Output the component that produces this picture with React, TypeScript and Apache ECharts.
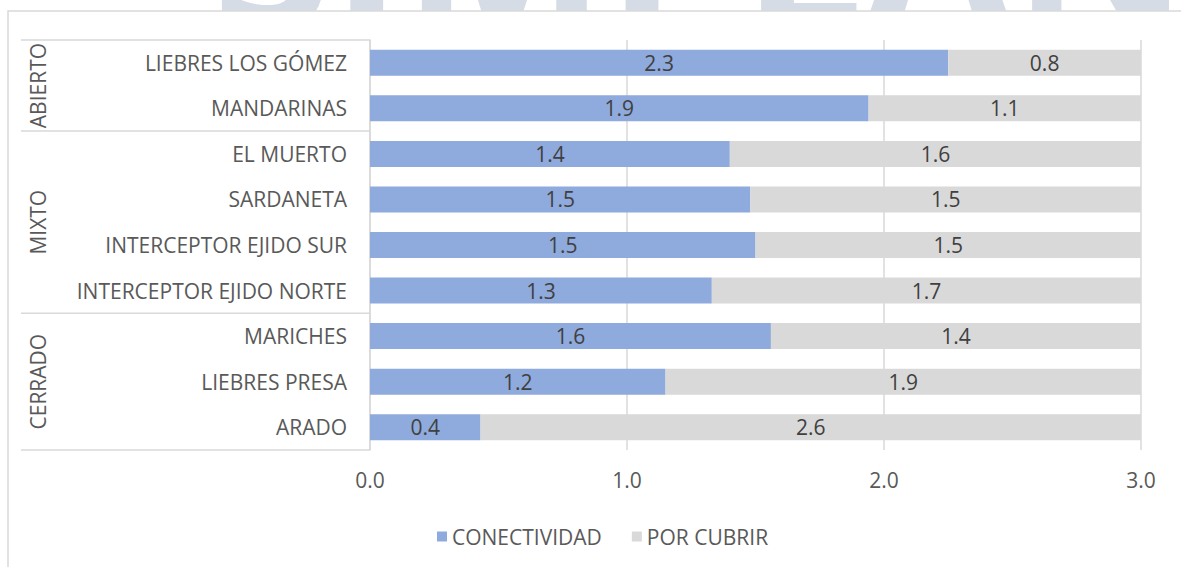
import React, { useEffect, useRef } from "react";
import * as echarts from "echarts";

const categories = [
  "LIEBRES LOS GÓMEZ",
  "MANDARINAS",
  "EL MUERTO",
  "SARDANETA",
  "INTERCEPTOR EJIDO SUR",
  "INTERCEPTOR EJIDO NORTE",
  "MARICHES",
  "LIEBRES PRESA",
  "ARADO",
];
const conectividad = [2.25, 1.94, 1.4, 1.48, 1.5, 1.33, 1.56, 1.15, 0.43];
const porCubrir = [0.75, 1.06, 1.6, 1.52, 1.5, 1.67, 1.44, 1.85, 2.57];
const groupNames = ["ABIERTO", "MIXTO", "CERRADO"];
const groupSizes = [2, 4, 3];
const seriesNames = ["CONECTIVIDAD", "POR CUBRIR"];
const watermark = "SIMPLAN";

const FONT = "'Open Sans', 'Noto Sans', sans-serif";
const LINE = "#d9d9d9";
const FS = 21;

const fmt = (v: number) => (Math.round(v * 10 + 1e-6) / 10).toFixed(1);

export default function App() {
  const ref = useRef<HTMLDivElement>(null);
  useEffect(() => {
    document.body.style.margin = "0";
    const chart = echarts.init(ref.current!, undefined, { renderer: "svg" });
    const labelCfg = {
      show: true,
      position: "inside",
      color: "#404040",
      fontSize: FS,
      fontFamily: FONT,
      formatter: (p: any) => fmt(p.value),
    };
    chart.setOption({
      animation: false,
      backgroundColor: "#ffffff",
      grid: { left: 370, right: 40, top: 40, bottom: 117 },
      legend: {
        data: seriesNames,
        left: 432,
        top: 521,
        icon: "rect",
        itemWidth: 10,
        itemHeight: 10,
        itemGap: 30,
        textStyle: { color: "#595959", fontSize: FS, fontFamily: FONT },
      },
      xAxis: {
        type: "value",
        min: 0,
        max: 3,
        interval: 1,
        axisLine: { show: false },
        axisTick: { show: false },
        splitLine: { lineStyle: { color: LINE, width: 1.5 } },
        axisLabel: {
          color: "#595959",
          fontSize: FS,
          fontFamily: FONT,
          margin: 19,
          formatter: (v: number) => v.toFixed(1),
        },
      },
      yAxis: {
        type: "category",
        inverse: true,
        data: categories,
        axisLine: { show: true, lineStyle: { color: LINE, width: 1.5 } },
        axisTick: { show: false },
        axisLabel: { color: "#595959", fontSize: FS, fontFamily: FONT, margin: 23 },
      },
      series: [
        {
          name: seriesNames[0],
          type: "bar",
          stack: "total",
          barWidth: 26,
          itemStyle: { color: "#8faadc" },
          label: labelCfg,
          data: conectividad,
        },
        {
          name: seriesNames[1],
          type: "bar",
          stack: "total",
          barWidth: 26,
          itemStyle: { color: "#d9d9d9" },
          label: labelCfg,
          data: porCubrir,
        },
      ],
    });

    const y0 = chart.convertToPixel({ yAxisIndex: 0 }, 0) as number;
    const y1 = chart.convertToPixel({ yAxisIndex: 0 }, 1) as number;
    const band = y1 - y0;
    const top = y0 - band / 2;
    const xAxisLeft = chart.convertToPixel({ xAxisIndex: 0 }, 0) as number;
    const graphics: any[] = [
      {
        type: "text",
        left: 212,
        top: -162,
        z: -20,
        silent: true,
        style: {
          text: watermark,
          fontSize: 216,
          fontWeight: "bold",
          fontFamily: FONT,
          fill: "#d6dce5",
        },
      },
      {
        type: "rect",
        z: -10,
        silent: true,
        shape: { x: 8, y: 11, width: 1300, height: 700 },
        style: { fill: "#ffffff", stroke: LINE, lineWidth: 1.5 },
      },
    ];
    let start = 0;
    graphics.push({
      type: "line",
      silent: true,
      shape: { x1: 21, y1: top, x2: xAxisLeft, y2: top },
      style: { stroke: LINE, lineWidth: 1.5 },
    });
    groupNames.forEach((g, i) => {
      const a = top + start * band;
      const b = top + (start + groupSizes[i]) * band;
      graphics.push({
        type: "line",
        silent: true,
        shape: { x1: 21, y1: b, x2: xAxisLeft, y2: b },
        style: { stroke: LINE, lineWidth: 1.5 },
      });
      graphics.push({
        type: "text",
        silent: true,
        x: 38,
        y: (a + b) / 2,
        rotation: Math.PI / 2,
        style: {
          text: g,
          fill: "#595959",
          fontSize: FS,
          fontFamily: FONT,
          align: "center",
          verticalAlign: "middle",
        },
      });
      start += groupSizes[i];
    });
    chart.setOption({ graphic: graphics });

    return () => chart.dispose();
  }, []);
  return <div ref={ref} style={{ width: 1181, height: 567 }} />;
}
